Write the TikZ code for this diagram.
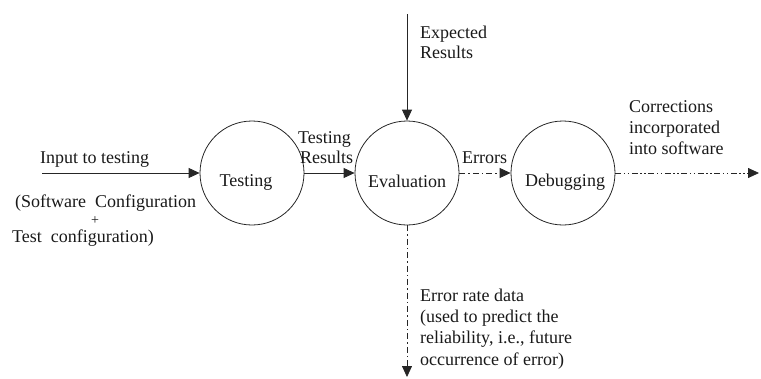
\documentclass[tikz,border=0pt]{standalone}
\usepackage{fontspec}
\setmainfont{Liberation Serif}
\usetikzlibrary{arrows.meta}
\begin{document}
\begin{tikzpicture}[x=1pt,y=-1pt,
  proc/.style={draw=black!85,line width=0.8pt,circle,minimum size=104pt,inner sep=0pt},
  txt/.style={inner sep=0pt,font=\fontsize{18}{21}\selectfont,text=black!90},
  flow/.style={draw=black!85,line width=0.8pt,-{Triangle[length=11pt,width=10pt]}},
  dashdot/.style={dash pattern=on 6pt off 3pt on 1.5pt off 3pt},
  dashdotdot/.style={dash pattern=on 6pt off 2.5pt on 1.5pt off 2.5pt on 1.5pt off 2.5pt}]
\useasboundingbox (0,0) rectangle (761,378);
% processes
\node[proc] (T) at (252,173) {};
\node[proc] (E) at (407,173) {};
\node[proc] (D) at (563,173) {};
\node[txt,anchor=base] (Tt) at (246,186) {Testing};
\node[txt,anchor=base] (Et) at (407,187) {Evaluation};
\node[txt,anchor=base] (Dt) at (565,186) {Debugging};
% free ends
\coordinate (in) at (42,173);
\coordinate (exp) at (407,14);
\coordinate (corr) at (759,173);
\coordinate (err) at (407,377);
% connectors
\draw[flow] (in) -- (T.west);
\draw[flow] (T.east) -- (E.west);
\draw[flow] (exp) -- (E.north);
\draw[flow,dashdot] (E.east) -- (D.west);
\draw[flow,dashdotdot] (D.east) -- (corr);
\draw[flow,dashdot] (E.south) -- (err);
% labels
\node[txt,anchor=base west] (l1) at (40,163) {Input to testing};
\node[txt,anchor=base west] (l2) at (15,207) {(Software\ \ Configuration};
\node[txt,anchor=center,font=\fontsize{14}{16}\selectfont] (l3) at (95,221) {+};
\node[txt,anchor=base west] (l4) at (12,242) {Test\ \ configuration)};
\node[txt,anchor=base west] (l5) at (298,143) {Testing};
\node[txt,anchor=base west] (l6) at (300,163) {Results};
\node[txt,anchor=base west] (l7) at (420,38) {Expected};
\node[txt,anchor=base west] (l8) at (420,58) {Results};
\node[txt,anchor=base west] (l9) at (462,163) {Errors};
\node[txt,anchor=base west] (l10) at (629,112) {Corrections};
\node[txt,anchor=base west] (l11) at (629,133) {incorporated};
\node[txt,anchor=base west] (l12) at (629,154) {into software};
\node[txt,anchor=base west] (l13) at (420,301) {Error rate data};
\node[txt,anchor=base west] (l14) at (420,322) {(used to predict the};
\node[txt,anchor=base west] (l15) at (420,343) {reliability, i.e., future};
\node[txt,anchor=base west] (l16) at (420,365) {occurrence of error)};
\end{tikzpicture}
\end{document}
